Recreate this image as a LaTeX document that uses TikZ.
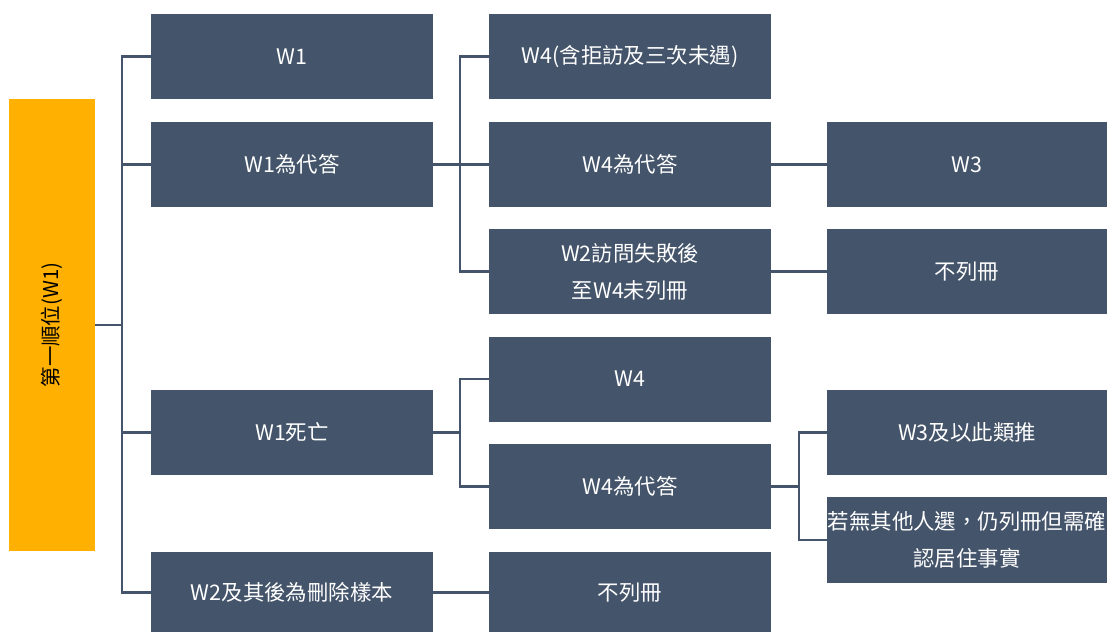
\documentclass[tikz,border=0pt]{standalone}
\usepackage{fontspec}
\setmainfont{Noto Sans CJK TC}
\begin{document}
\begin{tikzpicture}[x=1bp,y=-1bp,
  box/.style={draw=none,fill=boxc,text=white,inner sep=0pt,align=center,font=\fontsize{21.5}{37}\selectfont},
  link/.style={draw=boxc,line width=2.2bp}]
\definecolor{boxc}{HTML}{44546A}
\definecolor{orangec}{HTML}{FFB000}
\useasboundingbox (0,0) rectangle (1107,632);
% orange
\node[fill=orangec,minimum width=86bp,minimum height=452bp,inner sep=0pt] (root) at (52,325) {};
\node[rotate=90,font=\fontsize{20.5}{24}\selectfont] at (root.center) {第一順位(W1)};
% column 1
\node[box,minimum width=282bp,minimum height=85bp] (a1) at (292,56.5) {W1};
\node[box,minimum width=282bp,minimum height=85bp] (a2) at (292,164.5) {W1為代答};
\node[box,minimum width=282bp,minimum height=85bp] (a3) at (292,432.5) {W1死亡};
\node[box,minimum width=282bp,minimum height=81bp] (a4) at (292,592.5) {W2及其後為刪除樣本};
% column 2
\node[box,minimum width=282bp,minimum height=85bp] (b1) at (630,56.5) {W4(含拒訪及三次未遇)};
\node[box,minimum width=282bp,minimum height=85bp] (b2) at (630,164.5) {W4為代答};
\node[box,minimum width=282bp,minimum height=85bp] (b3) at (630,271.5) {W2訪問失敗後\\至W4未列冊};
\node[box,minimum width=282bp,minimum height=85bp] (b4) at (630,379) {W4};
\node[box,minimum width=282bp,minimum height=85bp] (b5) at (630,486.5) {W4為代答};
\node[box,minimum width=282bp,minimum height=81bp] (b6) at (630,592.5) {不列冊};
% column 3
\node[box,minimum width=280bp,minimum height=85bp] (c1) at (967,164.5) {W3};
\node[box,minimum width=280bp,minimum height=85bp] (c2) at (967,271.5) {不列冊};
\node[box,minimum width=280bp,minimum height=85bp] (c3) at (967,432.5) {W3及以此類推};
\node[box,minimum width=280bp,minimum height=86bp] (c4) at (967,540) {若無其他人選，仍列冊但需確\\認居住事實};
% connectors
\coordinate (j0) at (122,325);
\draw[link] (root.east) -- (j0);
\foreach \t in {a1,a2,a3,a4} \draw[link] (j0) |- (\t.west);
\coordinate (j1) at (460,164.5);
\draw[link] (a2.east) -- (j1);
\foreach \t in {b1,b2,b3} \draw[link] (j1) |- (\t.west);
\coordinate (j2) at (460,432.5);
\draw[link] (a3.east) -- (j2);
\foreach \t in {b4,b5} \draw[link] (j2) |- (\t.west);
\draw[link] (a4.east) -- (b6.west);
\draw[link] (b2.east) -- (c1.west);
\draw[link] (b3.east) -- (c2.west);
\coordinate (j3) at (799,486.5);
\draw[link] (b5.east) -- (j3);
\foreach \t in {c3,c4} \draw[link] (j3) |- (\t.west);
\end{tikzpicture}
\end{document}
